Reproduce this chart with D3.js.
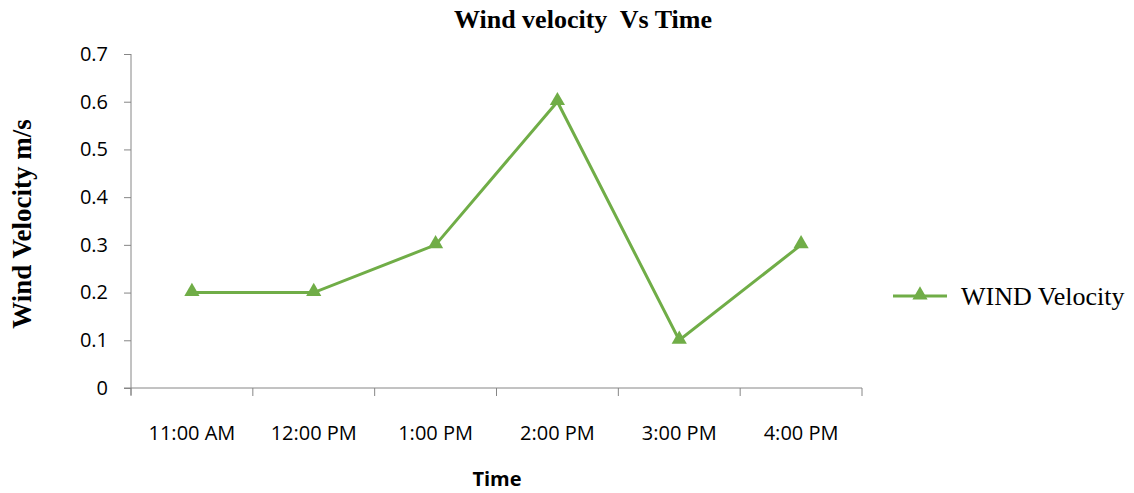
<!DOCTYPE html>
<html lang="en">
  <head>
    <meta charset="UTF-8" />
    <title>Wind velocity Vs Time</title>
    <style>
      body { margin: 0; background: #fff; }
      .axis path, .axis line { stroke: #868686; stroke-width: 1px; }
      .tick text { font-family: "Open Sans", "Noto Sans", sans-serif; font-size: 20px; fill: #000; }
    </style>
  </head>
  <body>
    <div id="chart"></div>
    <script src="https://d3js.org/d3.v7.min.js"></script>
    <script>
      // chart data
      const times = ["11:00 AM", "12:00 PM", "1:00 PM", "2:00 PM", "3:00 PM", "4:00 PM"];
      const windVelocity = [0.2, 0.2, 0.3, 0.6, 0.1, 0.3];
      const yTicks = [0, 0.1, 0.2, 0.3, 0.4, 0.5, 0.6, 0.7];
      const seriesName = "WIND Velocity";

      const W = 1134, H = 493;
      const margin = {top: 54, left: 131, right: W - 862, bottom: H - 388};
      const width = W - margin.left - margin.right,
            height = H - margin.top - margin.bottom;
      const green = "#70ad47";
      const serif = "'Liberation Serif', 'Times New Roman', serif";
      const sans = "'Open Sans', 'Noto Sans', sans-serif";

      const svg = d3.select("#chart").append("svg")
          .attr("width", W)
          .attr("height", H);

      const g = svg.append("g")
          .attr("transform", "translate(" + margin.left + "," + margin.top + ")");

      const x = d3.scaleBand().domain(times).range([0, width]);
      const y = d3.scaleLinear().domain([0, 0.7]).range([height, 0]);

      // y axis
      const yAxis = g.append("g").attr("class", "axis")
          .call(d3.axisLeft(y).tickValues(yTicks).tickSize(7).tickSizeOuter(0).tickPadding(16)
            .tickFormat(d => d === 0 ? "0" : d3.format(".1f")(d)));
      yAxis.select(".domain").attr("d", "M0,0V" + (height + 7));

      // x axis with ticks at band edges
      const xAxis = g.append("g").attr("class", "axis")
          .attr("transform", "translate(0," + height + ")");
      xAxis.append("path").attr("class", "domain")
          .attr("d", "M-7,0H" + width).attr("fill", "none").attr("stroke", "#868686");
      const edges = times.map(t => x(t)).concat([width]);
      xAxis.selectAll("line.edge").data(edges).enter().append("line")
          .attr("x1", d => d).attr("x2", d => d)
          .attr("y1", 0).attr("y2", 8);
      xAxis.selectAll("text.lbl").data(times).enter().append("text")
          .attr("x", d => x(d) + x.bandwidth() / 2)
          .attr("y", 52)
          .attr("text-anchor", "middle")
          .style("font-family", sans)
          .style("font-size", "20px")
          .text(d => d);

      // line
      const line = d3.line()
          .x((d, i) => x(times[i]) + x.bandwidth() / 2)
          .y(d => y(d));
      g.append("path")
          .datum(windVelocity)
          .attr("fill", "none")
          .attr("stroke", green)
          .attr("stroke-width", 3)
          .attr("d", line);

      // triangle markers
      const tri = d3.symbol().type(d3.symbolTriangle).size(100);
      g.selectAll(".marker").data(windVelocity).enter().append("path")
          .attr("class", "marker")
          .attr("d", tri)
          .attr("fill", green)
          .attr("transform", (d, i) => "translate(" + (x(times[i]) + x.bandwidth() / 2) + "," + (y(d) - 1) + ")");

      // title
      svg.append("text")
          .attr("x", 583).attr("y", 28)
          .attr("text-anchor", "middle")
          .style("font-family", serif)
          .style("font-weight", "bold")
          .style("font-size", "26px")
          .style("white-space", "pre")
          .text("Wind velocity  Vs Time");

      // y title
      svg.append("text")
          .attr("transform", "translate(31,224) rotate(-90)")
          .attr("text-anchor", "middle")
          .style("font-family", serif)
          .style("font-weight", "bold")
          .style("font-size", "27px")
          .text("Wind Velocity m/s");

      // x title
      svg.append("text")
          .attr("x", 497).attr("y", 486)
          .attr("text-anchor", "middle")
          .style("font-family", sans)
          .style("font-weight", "bold")
          .style("font-size", "20px")
          .text("Time");

      // legend
      const lg = svg.append("g").attr("transform", "translate(893,296)");
      lg.append("line").attr("x1", 0).attr("x2", 54).attr("y1", 0).attr("y2", 0)
          .attr("stroke", green).attr("stroke-width", 3);
      lg.append("path").attr("d", tri).attr("fill", green).attr("transform", "translate(27,-1)");
      lg.append("text").attr("x", 68).attr("y", 9)
          .style("font-family", serif)
          .style("font-size", "26px")
          .text(seriesName);
    </script>
  </body>
</html>
